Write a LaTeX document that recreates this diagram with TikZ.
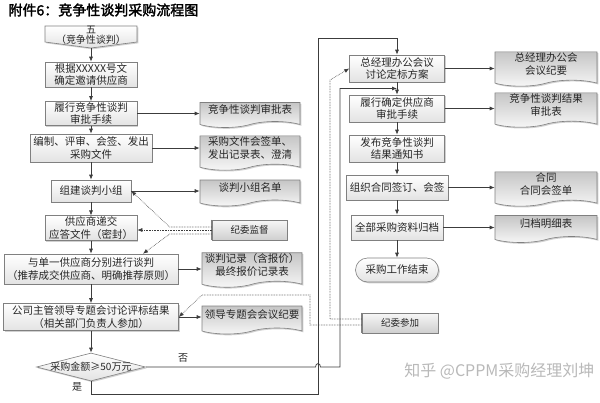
\documentclass[tikz,border=0pt]{standalone}
\usepackage{fontspec}
\setmainfont{Noto Sans CJK SC}[AutoFakeBold=2]
\usetikzlibrary{shapes.symbols,shapes.geometric,shadows,calc,arrows.meta}
\definecolor{lin}{HTML}{3C3C3C}
\definecolor{bord}{HTML}{808080}
\tikzset{
  shad/.style={drop shadow={shadow xshift=1.3pt,shadow yshift=-1.3pt,opacity=.3,fill=black!60}},
  txt/.style={font=\fontsize{10.5}{12.5}\selectfont, text=black!85},
  proc/.style={txt, draw=bord, line width=0.6pt, top color=white, bottom color=gray!22,
               inner sep=1pt, align=center, shad},
  docu/.style={txt, shape=tape, tape bend top=none, tape bend bottom=in and out, tape bend height=6pt,
               draw=bord, line width=0.6pt, top color=gray!45, bottom color=gray!6,
               minimum width=100pt, inner sep=1pt, align=center, text depth=5pt, shad},
  jwbox/.style={txt, font=\fontsize{9.5}{11}\selectfont, draw=bord, line width=0.6pt,
               top color=gray!6, bottom color=gray!38, minimum height=20pt, inner sep=1pt, shad},
  arr/.style={draw=lin, line width=0.7pt, -{Latex[length=5pt,width=4pt]}},
  lnk/.style={draw=lin, line width=0.7pt},
  dotline/.style={draw=lin, line width=0.6pt, densely dotted},
  dotarr/.style={dotline, -{Latex[length=5pt,width=4pt]}},
}
\begin{document}
\begin{tikzpicture}[x=1pt,y=-1pt]
\fill[white] (0,0) rectangle (600,402);
\useasboundingbox (0,0) rectangle (600,402);

% title
\node[anchor=west, font=\bfseries\fontsize{14}{16}\selectfont] (title) at (5,10) {附件6：竞争性谈判采购流程图};

% start shape
\path[draw=bord, line width=0.6pt, top color=white, bottom color=gray!22, shad]
  (45,26) -- (137,26) -- (137,42) -- (91,48) -- (45,42) -- cycle;
\node[font=\fontsize{10}{10.5}\selectfont, align=center, text=black!85] (s0) at (91,35.5) {五\\（竞争性谈判）};
\coordinate (s0tip) at (91,48);

% left column
\node[proc, minimum width=92pt, minimum height=25pt] (s1) at (91,74.5) {根据XXXXX号文\\确定邀请供应商};
\node[proc, minimum width=92pt, minimum height=24pt] (s2) at (91,113.5) {履行竞争性谈判\\审批手续};
\node[proc, minimum width=122pt, minimum height=28pt] (s3) at (91,148) {编制、评审、会签、发出\\采购文件};
\node[proc, minimum width=80pt, minimum height=22pt] (s4) at (91,191) {组建谈判小组};
\node[proc, minimum width=92pt, minimum height=24pt] (s5) at (91,228) {供应商递交\\应答文件（密封）};
\node[proc, minimum width=174pt, minimum height=30pt] (s6) at (91,269) {与单一供应商分别进行谈判\\（推荐成交供应商、明确推荐原则）};
\node[proc, minimum width=175pt, minimum height=27pt] (s7) at (91,317) {公司主管领导专题会讨论评标结果\\（相关部门负责人参加）};
\node[diamond, draw=bord, line width=0.6pt, top color=white, bottom color=gray!22, shad,
      minimum width=109pt, minimum height=28pt, inner sep=0pt] (dec) at (91,367) {};
\node[txt, font=\fontsize{10}{12}\selectfont] (dect) at (dec.center) {采购金额≥50万元};

% left documents
\node[docu, minimum height=25pt] (d2) at (250,112) {竞争性谈判审批表};
\node[docu, minimum height=30pt] (d3) at (250,150) {采购文件会签单、\\发出记录表、澄清};
\node[docu, minimum height=26pt] (d4) at (250,190) {谈判小组名单};
\node[docu, minimum height=32pt] (d6) at (252,267) {谈判记录（含报价）\\最终报价记录表};
\node[docu, minimum height=28pt] (d7) at (252,317) {领导专题会会议纪要};
\node[jwbox, minimum width=75pt] (jw1) at (249.5,230) {纪委监督};
\draw[draw=bord, line width=1.4pt] (jw1.north west) -- (jw1.south west);

% right column
\node[proc, minimum width=95pt, minimum height=27pt] (r1) at (397,68.5) {总经理办公会议\\讨论定标方案};
\node[proc, minimum width=95pt, minimum height=27pt] (r2) at (397,108.5) {履行确定供应商\\审批手续};
\node[proc, minimum width=95pt, minimum height=27pt] (r3) at (397,148.5) {发布竞争性谈判\\结果通知书};
\node[proc, minimum width=102pt, minimum height=25pt] (r4) at (397,187.5) {组织合同签订、会签};
\node[proc, minimum width=92pt, minimum height=25pt] (r5) at (397,227.5) {全部采购资料归档};
\node[proc, minimum width=83pt, minimum height=24pt, rounded corners=12pt] (r6) at (397,270) {采购工作结束};

% right documents
\node[docu, minimum width=102pt, minimum height=30pt] (rd1) at (546,66) {总经理办公会\\会议纪要};
\node[docu, minimum width=102pt, minimum height=29pt] (rd2) at (546,107) {竞争性谈判结果\\审批表};
\node[docu, minimum width=102pt, minimum height=27pt] (rd4) at (546,186) {合同\\合同会签单};
\node[docu, minimum width=102pt, minimum height=27pt] (rd5) at (546,226) {归档明细表};
\node[jwbox, minimum width=76pt] (jw2) at (400,323) {纪委参加};
\draw[draw=bord, line width=1.4pt] (jw2.north west) -- (jw2.south west);

% watermark
\node[anchor=east, text=gray!55, font=\fontsize{16}{18}\selectfont] (wm) at (598,371) {知乎 @CPPM采购经理刘坤};

% labels
\node[txt, font=\fontsize{10}{12}\selectfont] (no) at (183,358) {否};
\node[txt, font=\fontsize{10}{12}\selectfont] (yes) at (77,387) {是};

% left vertical flow
\draw[arr] (s0tip) -- (s1.north);
\draw[arr] (s1.south) -- (s2.north);
\draw[arr] (s2.south) -- (s3.north);
\draw[arr] (s3.south) -- (s4.north);
\draw[arr] (s4.south) -- (s5.north);
\draw[arr] (s5.south) -- (s6.north);
\draw[arr] (s6.south) -- (s7.north);
\draw[arr] (s7.south) -- (dec.north);

% right vertical flow
\draw[arr] (r1.south) -- (r2.north);
\draw[arr] (r2.south) -- (r3.north);
\draw[arr] (r3.south) -- (r4.north);
\draw[arr] (r4.south) -- (r5.north);
\draw[arr] (r5.south) -- (r6.north);

% to documents
\draw[arr] (s2.east) -- (s2.east -| d2.west);
\draw[arr] (s3.east) -- (s3.east -| d3.west);
\draw[arr] (s4.east) -- (s4.east -| d4.west);
\draw[arr] (s6.east) -- (s6.east -| d6.west);
\draw[arr] (s7.east) -- (s7.east -| d7.west);
\draw[arr] (r1.east) -- (r1.east -| rd1.west);
\draw[arr] (r2.east) -- (r2.east -| rd2.west);
\draw[arr] (r4.east) -- (r4.east -| rd4.west);
\draw[arr] (r5.east) -- (r5.east -| rd5.west);

% supervision (dotted)
\coordinate (s6pt) at ($(s6.north)+(52,0)$);
\draw[dotarr] ($(jw1.west)+(0,-3)$) -- ++(-42,0) -- (s4.east);
\draw[dotarr] (jw1.west) -- (jw1.west -| s5.east);
\draw[dotarr] ($(jw1.west)+(0,4)$) -- ++(-42,0) -- (s6pt);

\coordinate (v1) at (330,80);
\coordinate (v2) at (310,295);
\coordinate (v3) at (202,295);
\draw[dotarr] ($(jw2.west)+(0,-4)$) -| (v1) -- (r1.west);
\draw[dotarr] ($(jw2.west)+(0,2)$) -| (v2) -- (v3) -- (s7.east);

% yes branch
\coordinate (b2) at (318,394);
\coordinate (b3) at (318,38);
\draw[arr] (dec.south) |- (b2) -- (b3) -| (r1.north);

% no branch
\coordinate (mid12) at ($(r1.south)!0.5!(r2.north)$);
\coordinate (h1) at (315.5,367);
\coordinate (h2) at (320.5,367);
\coordinate (n1) at (340,367);
\draw[arr] (dec.east) -- (h1) .. controls (315.5,362.5) and (320.5,362.5) .. (h2) -- (n1) |- (mid12);
\end{tikzpicture}
\end{document}
